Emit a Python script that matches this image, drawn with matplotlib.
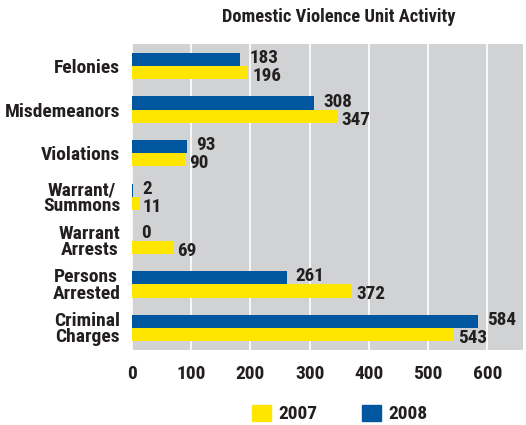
import matplotlib
matplotlib.use("Agg")
import matplotlib.pyplot as plt
from matplotlib.patches import Patch
import numpy as np

categories = ["Felonies", "Misdemeanors", "Violations", "Warrant/\nSummons",
              "Warrant\nArrests", "Persons\nArrested", "Criminal\nCharges"]
values_2007 = [196, 347, 90, 11, 69, 372, 543]
values_2008 = [183, 308, 93, 2, 0, 261, 584]
xticks = [0, 100, 200, 300, 400, 500, 600]

FONT = ["Roboto Condensed", "DejaVu Sans"]
TXT = "#231f20"
YEL = "#ffe600"
BLU = "#0057a0"
GRAY = "#d1d2d4"
FS = 14
VFS = 13.8

plt.rcParams["font.family"] = FONT
plt.rcParams["font.weight"] = "bold"

fig = plt.figure(figsize=(5.26, 4.25), dpi=100)
ax = fig.add_axes([132/526, 75/425, 391/526, 306/425])
ax.set_facecolor(GRAY)
for s in ax.spines.values():
    s.set_visible(False)

y = np.arange(len(categories))
h = 0.3
ax.barh(y - h/2, values_2008, height=h, color=BLU, zorder=3)
ax.barh(y + h/2, values_2007, height=h, color=YEL, zorder=3)

for yi, v in zip(y, values_2008):
    ax.annotate(str(v), (v, yi - h/2), xytext=(6.5, 1), textcoords="offset points",
                ha="left", va="center", fontsize=VFS, fontweight="bold", color=TXT)
for yi, v in zip(y, values_2007):
    ax.annotate(str(v), (v, yi + h/2), xytext=(3, -2.5), textcoords="offset points",
                ha="left", va="center", fontsize=VFS, fontweight="bold", color=TXT)

ax.set_xlim(0, 660)
ax.set_ylim(len(categories) - 0.5, -0.5)
ax.set_xticks(xticks)
ax.set_xticklabels([str(t) for t in xticks], fontsize=FS, fontweight="bold", color=TXT)
ax.set_yticks(y)
ax.set_yticklabels(categories, fontsize=FS, fontweight="bold", color=TXT,
                   multialignment="center", linespacing=0.88)
ax.tick_params(axis="both", length=0)
ax.tick_params(axis="x", pad=11)
ax.tick_params(axis="y", pad=8.5)
ax.xaxis.grid(True, color="white", linewidth=1.2, zorder=1)
ax.set_axisbelow(True)

fig.text(339/526, 1 - 17/425, "Domestic Violence Unit Activity", ha="center", va="center",
         fontsize=13.3, fontweight="bold", color=TXT)

handles = [Patch(color=YEL, label="2007"), Patch(color=BLU, label="2008")]
leg = fig.legend(handles=handles, ncols=2, frameon=False, loc="center",
                 bbox_to_anchor=(340/526, 1 - 414/425),
                 prop={"family": FONT, "weight": "bold", "size": FS},
                 handlelength=0.95, handleheight=0.9, handletextpad=0.4,
                 columnspacing=2.3, labelcolor=TXT)

fig.savefig("out.png", dpi=100)
